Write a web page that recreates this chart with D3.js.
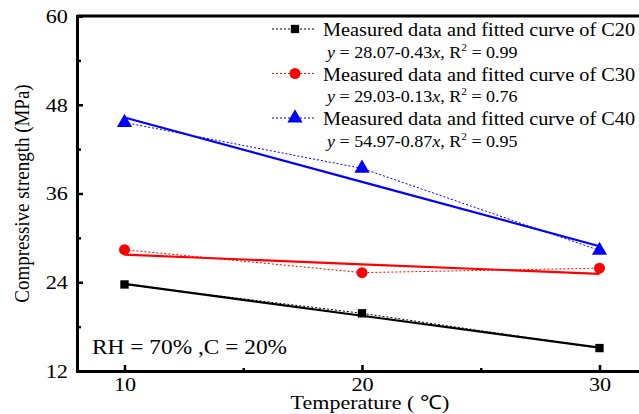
<!DOCTYPE html>
<html>
<head>
<meta charset="utf-8">
<script src="https://cdn.jsdelivr.net/npm/d3@7"></script>
<style>
  body { margin: 0; background: #fff; }
</style>
</head>
<body>
<div id="chart"></div>
<script>
// temperatures (x)
const temps = [10, 20, 30];
// measured compressive strength (MPa)
const c20 = [23.7, 19.8, 15.1];
const c30 = [28.4, 25.3, 25.9];
const c40 = [45.6, 39.4, 28.3];
// fitted lines: intercept, slope
const fitIntercepts = [28.07, 29.03, 54.97];
const fitSlopes = [-0.43, -0.13, -0.87];
const r2 = [0.99, 0.76, 0.95];
const seriesNames = ['C20', 'C30', 'C40'];
const yTicks = [12, 24, 36, 48, 60];
const xTicks = [10, 20, 30];

const serif = 'Liberation Serif';
const sx = 1.14; // the original figure is a bit wider than tall

function createChart(container) {
    const margin = {top: 16, right: -8, bottom: 43, left: 77};
    const width = 639 - margin.left - margin.right;
    const height = 414 - margin.top - margin.bottom;

    const root = d3.select(container)
        .append('svg')
        .attr('width', 639)
        .attr('height', 414)
        .attr('font-family', serif);

    const svg = root.append('g')
        .attr('transform', `translate(${margin.left},${margin.top})`);

    // text placed at (x, y), stretched horizontally
    function label(parent, x, y, size) {
        return parent.append('text')
            .attr('transform', `translate(${x},${y}) scale(${sx},1)`)
            .attr('font-family', serif)
            .attr('font-size', size)
            .attr('fill', '#000');
    }

    const x = d3.scaleLinear().domain([8, 32]).range([0, width]);
    const y = d3.scaleLinear().domain([12, 60]).range([height, 0]);

    const colors = ['#000000', '#ff0000', '#0000ff'];
    const data = [c20, c30, c40];

    // axes (ticks inward)
    const xAxis = svg.append('g')
        .attr('transform', `translate(0,${height})`)
        .call(d3.axisBottom(x).tickValues(xTicks).tickSize(-6).tickPadding(6));
    const xMinor = svg.append('g')
        .attr('transform', `translate(0,${height})`)
        .call(d3.axisBottom(x).tickValues([15, 25]).tickSize(-3).tickFormat(''));
    const yAxis = svg.append('g')
        .call(d3.axisLeft(y).tickValues(yTicks).tickSize(-6).tickPadding(8));
    const yMinor = svg.append('g')
        .call(d3.axisLeft(y).tickValues([18, 30, 42, 54]).tickSize(-4).tickFormat(''));

    [xAxis, xMinor, yAxis, yMinor].forEach(g => {
        g.attr('font-family', serif).attr('font-size', 19.5);
        g.select('.domain').attr('stroke', '#000').attr('stroke-width', 3);
        g.selectAll('.tick line').attr('stroke', '#000').attr('stroke-width', 2.5);
        g.selectAll('.tick text')
            .attr('fill', '#000')
            .attr('font-family', serif)
            .attr('transform', `scale(${sx},1)`);
    });
    xMinor.select('.domain').remove();
    yMinor.select('.domain').remove();

    // top frame line
    svg.append('line')
        .attr('x1', 0).attr('x2', width)
        .attr('y1', 0).attr('y2', 0)
        .attr('stroke', '#000').attr('stroke-width', 3);

    const line = d3.line()
        .x((d, i) => x(temps[i]))
        .y(d => y(d));

    // fitted lines (solid)
    data.forEach((s, k) => {
        const fit = temps.map(t => fitIntercepts[k] + fitSlopes[k] * t);
        svg.append('path')
            .datum(fit)
            .attr('fill', 'none')
            .attr('stroke', colors[k])
            .attr('stroke-width', 2.2)
            .attr('d', line);
    });

    // measured data (dotted) and markers
    const symbols = [d3.symbolSquare, d3.symbolCircle, d3.symbolTriangle];
    const symSizes = [70, 95, 100];
    data.forEach((s, k) => {
        svg.append('path')
            .datum(s)
            .attr('fill', 'none')
            .attr('stroke', colors[k])
            .attr('stroke-width', 1)
            .attr('stroke-dasharray', '2,2')
            .attr('d', line);
        svg.selectAll('.pt' + k)
            .data(s)
            .enter().append('path')
            .attr('class', 'pt' + k)
            .attr('transform', (d, i) => `translate(${x(temps[i])},${y(d)})`)
            .attr('d', d3.symbol().type(symbols[k]).size(symSizes[k]))
            .attr('fill', colors[k]);
    });

    // legend
    const legend = root.append('g');
    seriesNames.forEach((name, k) => {
        const cy = 29 + k * 44.5;
        legend.append('line')
            .attr('x1', 272).attr('x2', 316)
            .attr('y1', cy).attr('y2', cy)
            .attr('stroke', colors[k])
            .attr('stroke-width', 1)
            .attr('stroke-dasharray', '2,2');
        legend.append('path')
            .attr('transform', `translate(295,${cy})`)
            .attr('d', d3.symbol().type(symbols[k]).size(symSizes[k]))
            .attr('fill', colors[k]);
        label(legend, 323, cy + 7, 17.8)
            .text('Measured data and fitted curve of ' + name);
        const eq = label(legend, 327, cy + 28.5, 15.8);
        eq.append('tspan').attr('font-style', 'italic').text('y');
        eq.append('tspan').text(' = ' + fitIntercepts[k].toFixed(2) + '-' + Math.abs(fitSlopes[k]).toFixed(2));
        eq.append('tspan').attr('font-style', 'italic').text('x');
        eq.append('tspan').text(', R');
        eq.append('tspan').attr('font-size', 10).attr('dy', -7).text('2');
        eq.append('tspan').attr('dy', 7).text(' = ' + r2[k].toFixed(2));
    });

    // annotation
    label(svg, 15, height - 17, 20.5)
        .text('RH = 70% ,C = 20%');

    // axis labels
    label(root, 370, 408.5, 19.3)
        .attr('text-anchor', 'middle')
        .text('Temperature ( \u2103)');

    root.append('text')
        .attr('text-anchor', 'middle')
        .attr('font-family', serif)
        .attr('font-size', 19)
        .attr('transform', `translate(29,${margin.top + height / 2}) rotate(-90) scale(1,${sx})`)
        .text('Compressive strength (MPa)');
}

createChart('#chart');
</script>
</body>
</html>
